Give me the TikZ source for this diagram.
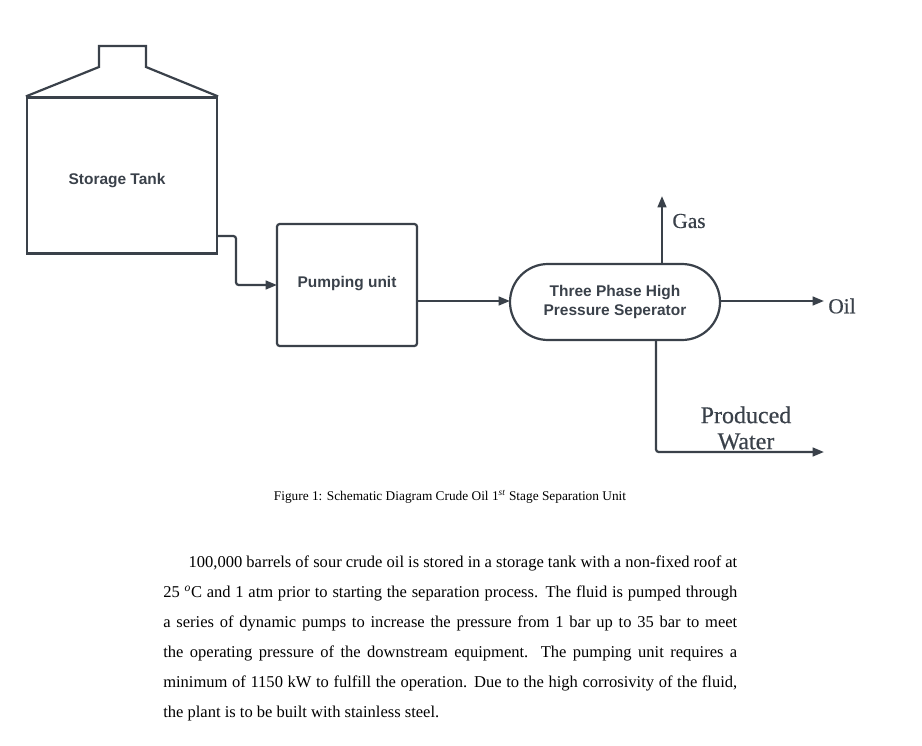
\documentclass[tikz,border=0pt]{standalone}
\usepackage{fontspec}
\setmainfont{Liberation Serif}
\setsansfont{Liberation Sans}
\newfontfamily\streamfont[FakeBold=0.5]{Liberation Serif}
\usepackage{xcolor}
\usepackage{tikz}
\usetikzlibrary{
  shapes.misc,
  arrows.meta,
  positioning
}
\definecolor{linegray}{HTML}{3A414A}
\tikzset{
  arrow/.style     = {-{Triangle[length=8.5pt, width=6.5pt]}, line width=1.65pt, linegray, rounded corners=2pt},
  unitblock/.style = {draw=linegray, line width=1.65pt, inner sep=0pt},
  sanslabel/.style = {font=\fontsize{11.6}{14.5}\selectfont\sffamily\bfseries, text=linegray, align=center},
  streamlabel/.style = {font=\fontsize{16}{19}\selectfont\streamfont, text=linegray, align=center},
}

\begin{document}
\begin{tikzpicture}[x=0.75pt, y=-0.75pt]
    \useasboundingbox (0,0) rectangle (922,746);

    % Storage Tank with roof
    \node[unitblock, minimum width=142.5pt, minimum height=117pt] (tank) at (122,175.5) {};
    \node[sanslabel] (tanklabel) at (117,180.5) {Storage Tank};
    \coordinate (roofa) at (99,67);
    \coordinate (roofb) at (99,46);
    \coordinate (roofc) at (146,46);
    \coordinate (roofd) at (146,67);
    \draw[line width=1.65pt, linegray, line join=miter]
        (tank.north west) -- (roofa) -- (roofb) -- (roofc) -- (roofd) -- (tank.north east);

    % Pumping unit
    \node[unitblock, rounded corners=2pt, minimum width=105pt, minimum height=91.5pt] (pump) at (347,285) {};
    \node[sanslabel] (pumplabel) at (347,284) {Pumping unit};

    % Separator vessel
    \node[unitblock, rounded rectangle, minimum width=157.5pt, minimum height=57pt, sanslabel] (sep) at (615,302)
        {Three Phase High\\Pressure Seperator};

    % Free ends of the lines
    \coordinate (tankout) at (217,236);
    \coordinate (bendtop) at (236,236);
    \coordinate (bendlow) at (236,285);
    \coordinate (pumpin) at (277,285);
    \coordinate (pumpout) at (417,301);
    \coordinate (sepin) at (510,301);
    \coordinate (gasfoot) at (662,264);
    \coordinate (gasend) at (662,196);
    \coordinate (oilfoot) at (720,301);
    \coordinate (oilend) at (824,301);
    \coordinate (waterfoot) at (656,340);
    \coordinate (waterbend) at (656,452);
    \coordinate (waterend) at (824,452);

    % Connecting lines
    \draw[arrow] (tankout) -- (bendtop) -- (bendlow) -- (pumpin);
    \draw[arrow] (pumpout) -- (sepin);
    \draw[arrow] (gasfoot) -- (gasend);
    \draw[arrow] (oilfoot) -- (oilend);
    \draw[arrow] (waterfoot) -- (waterbend) -- (waterend);

    % Stream names
    \node[streamlabel] (gas) at (689,221) {Gas};
    \node[streamlabel] (oil) at (842,306) {Oil};
    \node[streamlabel, font=\fontsize{18}{19.5}\selectfont\streamfont] (water) at (746,428) {Produced\\Water};

    % Caption
    \node[font=\fontsize{10}{12}\selectfont, inner sep=0pt] (caption) at (450,497)
        {Figure 1: Schematic Diagram Crude Oil 1\textsuperscript{\textit{st}} Stage Separation Unit};

    % Paragraph below the figure
    \node[font=\fontsize{12.4}{22.4}\selectfont, text width=430.5pt, align=justify, inner sep=0pt, anchor=north west] (para) at (163,556) {%
        \hspace*{19pt}100,000 barrels of sour crude oil is stored in a storage tank with a non-fixed roof at\linebreak
        25 \textsuperscript{\textit{o}}C and 1 atm prior to starting the separation process. The fluid is pumped through\linebreak
        a series of dynamic pumps to increase the pressure from 1 bar up to 35 bar to meet\linebreak
        the operating pressure of the downstream equipment. The pumping unit requires a\linebreak
        minimum of 1150 kW to fulfill the operation. Due to the high corrosivity of the fluid,\linebreak
        the plant is to be built with stainless steel.};

\end{tikzpicture}
\end{document}
